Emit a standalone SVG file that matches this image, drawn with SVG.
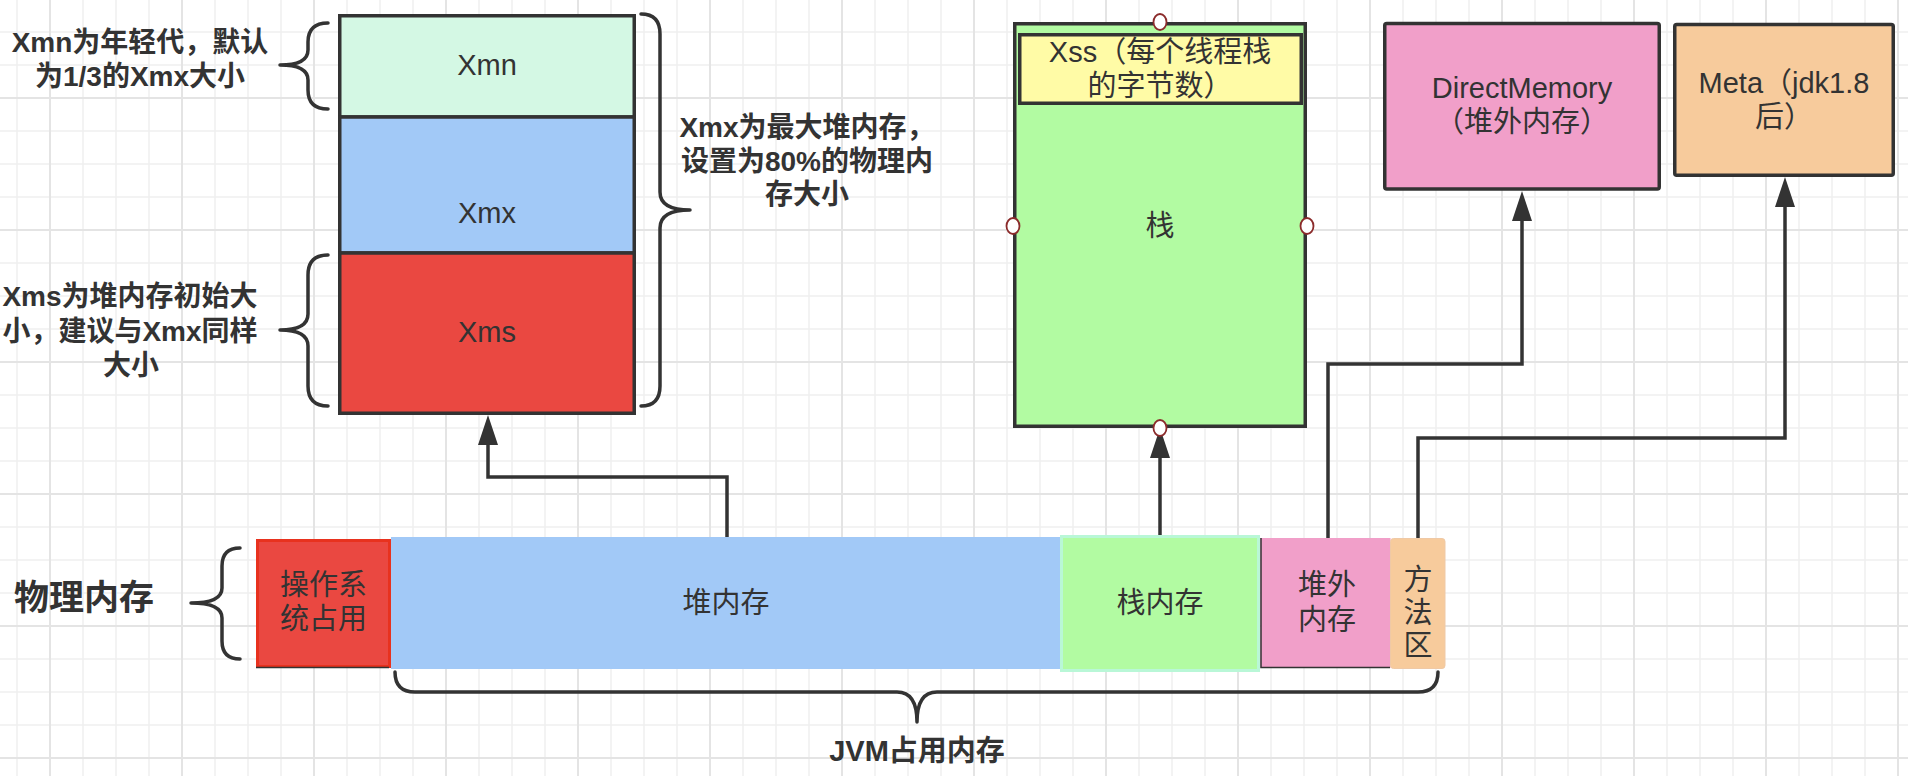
<svg xmlns="http://www.w3.org/2000/svg" width="1908" height="776" viewBox="0 0 1908 776">
<defs>
<pattern id="gridMinor" patternUnits="userSpaceOnUse" x="16" y="31" width="33" height="33"><path d="M1,0V33M0,1H33" fill="none" stroke="#efefef" stroke-width="1.5"/></pattern>
<pattern id="gridMajor" patternUnits="userSpaceOnUse" x="49" y="97" width="132" height="132"><path d="M1,0V132M0,1H132" fill="none" stroke="#e4e4e4" stroke-width="2"/></pattern>
<marker id="arrow" markerUnits="userSpaceOnUse" markerWidth="32" markerHeight="22" viewBox="0 0 32 22" refX="1" refY="11" orient="auto"><path d="M1,1 L31,11 L1,21 Z" fill="#333"/></marker>
</defs>
<style>
.box{stroke:#333;stroke-width:3.5}
.t{font-family:'Liberation Sans','Noto Sans CJK SC',sans-serif;font-size:29px;fill:#333;text-anchor:middle}
.b{font-weight:bold;font-size:28px}
.brace{fill:none;stroke:#333;stroke-width:3.5;stroke-linecap:round;stroke-linejoin:round}
.conn{fill:none;stroke:#333;stroke-width:3.5;stroke-linejoin:miter}
.pt{fill:#fff;stroke:#8b2b2b;stroke-width:1.8}
</style>
<rect width="1908" height="776" fill="#fff"/>
<rect width="1908" height="776" fill="url(#gridMinor)"/>
<rect width="1908" height="776" fill="url(#gridMajor)"/>

<g id="heap-column">
<rect class="box" x="339.75" y="15.75" width="294.5" height="101.25" fill="#d4f8e4"/>
<rect class="box" x="339.75" y="117" width="294.5" height="136" fill="#a2c9f7"/>
<rect class="box" x="339.75" y="253" width="294.5" height="160.25" fill="#ea4841"/>
<text class="t" x="487" y="75">Xmn</text>
<text class="t" x="487" y="223">Xmx</text>
<text class="t" x="487" y="342">Xms</text>
</g>

<g id="note-xmn">
<path class="brace" d="M328,23 Q308,23 308,42 L308,50 Q308,65 280,65 Q308,65 308,80 L308,90 Q308,109 328,109"/>
<text class="t b" x="140" y="52">Xmn为年轻代，默认</text>
<text class="t b" x="140" y="86">为1/3的Xmx大小</text>
</g>

<g id="note-xms">
<path class="brace" d="M328,255 Q308,255 308,275 L308,314 Q308,330 280,330 Q308,330 308,346 L308,386 Q308,406 328,406"/>
<text class="t b" x="130" y="306">Xms为堆内存初始大</text>
<text class="t b" x="130" y="341">小，建议与Xmx同样</text>
<text class="t b" x="131" y="375">大小</text>
</g>

<g id="note-xmx">
<path class="brace" d="M641,14 Q660,14 660,34 L660,192 Q660,210 690,210 Q660,210 660,228 L660,386 Q660,406 641,406"/>
<text class="t b" x="807" y="137">Xmx为最大堆内存，</text>
<text class="t b" x="807" y="171">设置为80%的物理内</text>
<text class="t b" x="807" y="204">存大小</text>
</g>

<g id="stack">
<rect class="box" x="1014.75" y="23.75" width="290.5" height="402.5" fill="#b2fba2"/>
<text class="t" x="1160" y="236">栈</text>
</g>

<g id="xss">
<rect class="box" x="1019.75" y="34.75" width="281.5" height="68.5" fill="#fffba6"/>
<text class="t" x="1160" y="62">Xss（每个线程栈</text>
<text class="t" x="1160" y="96">的字节数）</text>
</g>

<g id="direct-memory">
<rect class="box" x="1384.75" y="23.5" width="274.5" height="165.5" rx="2" fill="#f19fc9"/>
<text class="t" x="1522" y="98">DirectMemory</text>
<text class="t" x="1522" y="132">（堆外内存）</text>
</g>

<g id="meta">
<rect class="box" x="1674.75" y="24.5" width="218.5" height="150.75" rx="2" fill="#f7cb9c"/>
<text class="t" x="1784" y="93">Meta（jdk1.8</text>
<text class="t" x="1784" y="127">后）</text>
</g>

<g id="physical-label">
<path class="brace" d="M240,548 Q222,548 222,566 L222,588 Q222,603 191,603 Q222,603 222,618 L222,641 Q222,659 240,659"/>
<text class="t b" x="84" y="610" style="font-size:35px">物理内存</text>
</g>

<g id="os-used">
<rect x="257.5" y="540.5" width="132" height="126" fill="#ea4841" stroke="#e8321e" stroke-width="3"/>
<line x1="256" y1="667.5" x2="389" y2="667.5" stroke="#333" stroke-width="1.5"/>
<text class="t" x="323.5" y="595">操作系</text>
<text class="t" x="323.5" y="629">统占用</text>
</g>

<g id="heap-memory">
<rect x="391" y="537" width="669" height="132" fill="#a2c9f7"/>
<text class="t" x="726" y="613">堆内存</text>
</g>

<g id="stack-memory">
<rect x="1061.5" y="536.5" width="197" height="134" fill="#b2fba2" stroke="#b9f7d7" stroke-width="3"/>
<text class="t" x="1160" y="613">栈内存</text>
</g>

<g id="offheap-memory">
<rect x="1260.5" y="538" width="130" height="130" fill="#f19fc9"/>
<path d="M1261,538 V667.5 H1390" fill="none" stroke="#333" stroke-width="1.5"/>
<text class="t" x="1327" y="595">堆外</text>
<text class="t" x="1327" y="630">内存</text>
</g>

<g id="method-area">
<rect x="1390.5" y="538.5" width="54.5" height="130" rx="3" fill="#f7cb9c" stroke="#efc9a6" stroke-width="1"/>
<text class="t" x="1418" y="590">方</text>
<text class="t" x="1418" y="623">法</text>
<text class="t" x="1418" y="656">区</text>
</g>

<g id="jvm-label">
<path class="brace" d="M395,672 Q395,692 415,692 L897,692 Q917,692 917,722 Q917,692 937,692 L1418,692 Q1438,692 1438,672"/>
<text class="t b" x="917" y="761" style="font-size:29px">JVM占用内存</text>
</g>

<g id="connectors">
<path class="conn" d="M727,537 V477 H488 V445" marker-end="url(#arrow)"/>
<path class="conn" d="M1160,535 V458" marker-end="url(#arrow)"/>
<path class="conn" d="M1328,538 V364 H1522 V221" marker-end="url(#arrow)"/>
<path class="conn" d="M1418,538 V438 H1785 V207" marker-end="url(#arrow)"/>
</g>

<g id="stack-ports">
<ellipse class="pt" cx="1160" cy="22" rx="6.5" ry="8"/>
<ellipse class="pt" cx="1013" cy="226" rx="6.5" ry="8"/>
<ellipse class="pt" cx="1307" cy="226" rx="6.5" ry="8"/>
<ellipse class="pt" cx="1160" cy="428" rx="6.5" ry="8"/>
</g>
</svg>
